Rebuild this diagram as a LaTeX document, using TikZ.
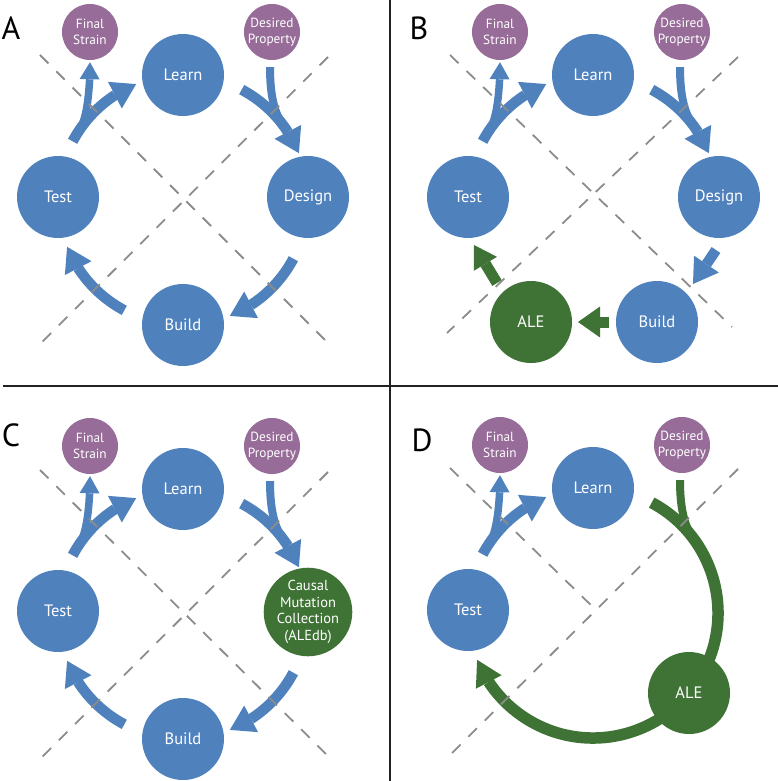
\documentclass[tikz,border=0pt]{standalone}
\usepackage{fontspec}
\setmainfont{PT Sans}
\usetikzlibrary{arrows.meta,bending,calc}
\definecolor{myblue}{HTML}{4F81BD}
\definecolor{mypurple}{HTML}{976C99}
\definecolor{mygreen}{HTML}{3F7335}
\definecolor{dashgray}{HTML}{8C8C8C}
\definecolor{sepgray}{HTML}{222222}
\pgfdeclarelayer{arrowlayer}
\pgfdeclarelayer{dashlayer}
\pgfsetlayers{arrowlayer,main,dashlayer}
\tikzset{
  bignode/.style={circle, fill=myblue, minimum size=82pt, inner sep=0pt, text=white, align=center, font=\fontsize{16.5}{18}\selectfont},
  greennode/.style={bignode, fill=mygreen},
  smallnode/.style={circle, fill=mypurple, minimum size=56pt, inner sep=0pt, text=white, align=center, font=\fontsize{13.3}{15.5}\selectfont},
  panellabel/.style={inner sep=0pt, font=\fontsize{32}{36}\selectfont},
  mainarrow/.style={draw=myblue, line width=10.5pt, -{Triangle[width=30pt,length=24pt,line width=0pt]}},
  brancharrow/.style={draw=myblue, line width=7.5pt, -{Triangle[width=20pt,length=17pt,line width=0pt]}},
  joinline/.style={draw=#1, line width=8pt},
  greenarrow/.style={draw=mygreen, line width=11pt, -{Triangle[width=#1,length=22pt,line width=0pt]}},
  greenarc/.style={draw=mygreen, line width=11.5pt, -{Triangle[width=29pt,length=25pt,line width=0pt]}},
  guide/.style={draw=dashgray, line width=1.8pt, dash pattern=on 12pt off 11pt},
  separator/.style={draw=sepgray, line width=2.4pt},
}
% common nodes and Test->Learn arrow with branch to Final Strain
\newcommand{\cyclebase}[1]{%
  \coordinate (#1O) at (183,200);
  \node[bignode] (#1Learn) at (183,75) {Learn};
  \node[bignode] (#1Test) at (58,197) {Test};
  \node[smallnode] (#1Final) at (90,32) {Final\\Strain};
  \node[smallnode] (#1Desired) at (272,32) {Desired\\Property};
  \begin{pgfonlayer}{arrowlayer}
    \draw[mainarrow] ($(#1O)+(152:125pt)$) arc[start angle=152, end angle=112, radius=125pt];
    \draw[brancharrow] ($(#1O)+(146:125pt)$) .. controls +(56:14pt) and +(0,26) .. ([yshift=-2pt]#1Final.south);
  \end{pgfonlayer}
}
% Desired Property branch joining an arc at 36 degrees
\newcommand{\desiredjoin}[2]{%
  \begin{pgfonlayer}{arrowlayer}
    \draw[joinline=#2] ([xshift=-2pt,yshift=-7pt]#1Desired.south) .. controls +(0,28) and +(128:16pt) .. ($(#1O)+(36:125pt)$);
  \end{pgfonlayer}
}
\newcommand{\learndesign}[1]{%
  \begin{pgfonlayer}{arrowlayer}
    \draw[mainarrow] ($(#1O)+(62:125pt)$) arc[start angle=62, end angle=22, radius=125pt];
  \end{pgfonlayer}
  \desiredjoin{#1}{myblue}
}
\newcommand{\lowerarrows}[1]{%
  \begin{pgfonlayer}{arrowlayer}
    \draw[mainarrow] ($(#1O)+(-28:125pt)$) arc[start angle=-28, end angle=-68, radius=125pt];
    \draw[mainarrow] ($(#1O)+(-118:125pt)$) arc[start angle=-118, end angle=-158, radius=125pt];
  \end{pgfonlayer}
}
\begin{document}
\begin{tikzpicture}[x=1pt,y=-1pt]
\useasboundingbox (0,0) rectangle (778,781);
\draw[separator] (390,0) -- (390,781);
\draw[separator] (3,386) -- (778,386);

% ---------- Panel A ----------
\begin{scope}
  \node[panellabel] (aLabel) at (11,28) {A};
  \cyclebase{a}
  \node[bignode] (aDesign) at (308,197) {Design};
  \node[bignode] (aBuild) at (183,325) {Build};
  \learndesign{a}
  \lowerarrows{a}
  \begin{pgfonlayer}{dashlayer}
    \draw[guide] (40,55) -- (328,343);
    \draw[guide] (328,57) -- (37,347);
  \end{pgfonlayer}
\end{scope}

% ---------- Panel B ----------
\begin{scope}[shift={(410,0)}]
  \node[panellabel] (bLabel) at (9,28) {B};
  \cyclebase{b}
  \node[bignode] (bDesign) at (309,197) {Design};
  \node[bignode] (bBuild) at (247,322) {Build};
  \node[greennode] (bALE) at (121,322) {ALE};
  \learndesign{b}
  \begin{pgfonlayer}{arrowlayer}
    \draw[mainarrow] ($(bDesign)+(-3,53)$) -- ($(bBuild)+(36,-38)$);
    \draw[greenarrow=31pt] ($(bBuild)+(-48,0)$) -- ($(bALE)+(47,0)$);
    \draw[greenarrow=27pt] ($(bALE)+(-34,-39)$) -- ($(bTest)+(6,48)$);
  \end{pgfonlayer}
  \begin{pgfonlayer}{dashlayer}
    \draw[guide] (40,55) -- (322,327);
    \draw[guide] (328,57) -- (37,333);
  \end{pgfonlayer}
\end{scope}

% ---------- Panel C ----------
\begin{scope}[shift={(0,414)}]
  \node[panellabel] (cLabel) at (11,21) {C};
  \cyclebase{c}
  \node[greennode, font=\fontsize{14.5}{16.6}\selectfont] (cCausal) at (308,198) {Causal\\Mutation\\Collection\\(ALEdb)};
  \node[bignode] (cBuild) at (183,325) {Build};
  \learndesign{c}
  \lowerarrows{c}
  \begin{pgfonlayer}{dashlayer}
    \draw[guide] (40,56) -- (330,344);
    \draw[guide] (328,58) -- (37,348);
  \end{pgfonlayer}
\end{scope}

% ---------- Panel D ----------
\begin{scope}[shift={(410,413)}]
  \node[panellabel] (dLabel) at (12,27) {D};
  \cyclebase{d}
  \begin{pgfonlayer}{arrowlayer}
    \draw[greenarc] ($(dO)+(62:125pt)$) arc[start angle=62, end angle=-158, radius=125pt];
  \end{pgfonlayer}
  \desiredjoin{d}{mygreen}
  \node[greennode] (dALE) at (279,280) {ALE};
  \begin{pgfonlayer}{dashlayer}
    \draw[guide] (40,55) -- (187,198);
    \draw[guide] (328,56) -- (37,345);
  \end{pgfonlayer}
\end{scope}
\end{tikzpicture}
\end{document}
